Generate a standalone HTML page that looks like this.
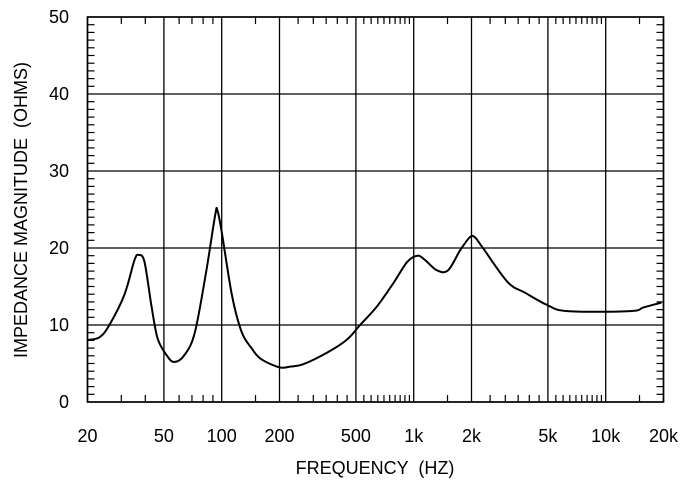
<!DOCTYPE html>
<html><head><meta charset="utf-8"><style>
body{margin:0;background:#fff}
svg text{font-family:"Liberation Sans",Arial,sans-serif;fill:#000;white-space:pre}
</style></head><body>
<svg id="chart" width="690" height="490" viewBox="0 0 690 490" xmlns="http://www.w3.org/2000/svg">
<g id="grid"></g>
<g id="ticks"></g>
<g id="labels"></g>
<path id="curve" fill="none" stroke="#000" stroke-width="2" stroke-linejoin="round"/>
<rect x="87.5" y="17" width="576" height="385" fill="none" stroke="#000" stroke-width="1.6"/>
<text x="375" y="474" font-size="18" text-anchor="middle" xml:space="preserve">FREQUENCY  (HZ)</text>
<text x="0" y="0" font-size="18" text-anchor="middle" xml:space="preserve" transform="translate(27,210) rotate(-90)">IMPEDANCE MAGNITUDE  (OHMS)</text>
</svg>
<script>
const freqs=[20,23.1,26,31.1,35.1,37,39.6,43,46.3,51.6,56.5,64,72.6,83.6,92.5,95,100,113,127,143,160,200,227,265,353,449,526,643,782,925,1048,1150,1320,1510,1745,1960,2080,2280,3080,3800,4960,6300,13400,15800,19500];
const ohms=[8.05,8.4,10,13.9,18.4,19.1,18.2,12.6,8.3,6.1,5.2,6.1,9.1,17.4,24.3,24.9,22.1,13.9,9.1,7.0,5.6,4.5,4.6,4.9,6.4,8.1,10.0,12.4,15.4,18.2,19.0,18.4,17.1,17.1,19.7,21.4,21.4,20.1,15.6,14.2,12.6,11.8,11.8,12.3,12.9];
const xMajor=[20,50,100,200,500,1000,2000,5000,10000,20000];
const xLabels=["20","50","100","200","500","1k","2k","5k","10k","20k"];
const xMinor=[30,40,60,70,80,90,150,250,300,350,400,450,550,600,650,700,750,800,850,900,950,1500,2500,3000,3500,4000,4500,5500,6000,6500,7000,7500,8000,8500,9000,9500,15000];
const yMajor=[0,10,20,30,40,50];
const L=87.5,R=663.5,T=17,B=402;
const sx=f=>L+(R-L)*Math.log10(f/20)/3;
const sy=v=>B-(B-T)*v/50;
const NS="http://www.w3.org/2000/svg";
function mk(tag,attrs,parent){const e=document.createElementNS(NS,tag);for(const k in attrs)e.setAttribute(k,attrs[k]);parent.appendChild(e);return e;}
const grid=document.getElementById('grid'),ticks=document.getElementById('ticks'),labels=document.getElementById('labels');
xMajor.forEach((f,i)=>{
  const l=mk('line',{x1:sx(f),x2:sx(f),y1:T,y2:B,stroke:'#000','stroke-width':1.3},grid);
  
  
  const t=mk('text',{x:sx(f),y:442,'font-size':18,'text-anchor':'middle'},labels);
  t.textContent=xLabels[i];
  
  
});
yMajor.forEach(v=>{
  const l=mk('line',{x1:L,x2:R,y1:sy(v),y2:sy(v),stroke:'#000','stroke-width':1.3},grid);
  
  
  const t=mk('text',{x:69,y:sy(v)+6,'font-size':18,'text-anchor':'end'},labels);
  t.textContent=String(v);
  
  
});
xMinor.forEach(f=>{
  const a=mk('line',{x1:sx(f),x2:sx(f),y1:B,y2:B-7,stroke:'#000','stroke-width':1.2},ticks);
  
  
  const b=mk('line',{x1:sx(f),x2:sx(f),y1:T,y2:T+7,stroke:'#000','stroke-width':1.2},ticks);
  
  
});
for(let v=1;v<50;v++){ if(v%10===0)continue;
  const a=mk('line',{x1:L,x2:L+7,y1:sy(v),y2:sy(v),stroke:'#000','stroke-width':1.2},ticks);
  
  
  const b=mk('line',{x1:R,x2:R-7,y1:sy(v),y2:sy(v),stroke:'#000','stroke-width':1.2},ticks);
  
  
}
const pts=freqs.map((f,i)=>[sx(f),sy(ohms[i])]);
let d='M'+pts[0][0].toFixed(1)+','+pts[0][1].toFixed(1);
for(let i=0;i<pts.length-1;i++){
  const p0=pts[Math.max(0,i-1)],p1=pts[i],p2=pts[i+1],p3=pts[Math.min(pts.length-1,i+2)];
  const c1x=p1[0]+(p2[0]-p0[0])/6,c1y=p1[1]+(p2[1]-p0[1])/6;
  const c2x=p2[0]-(p3[0]-p1[0])/6,c2y=p2[1]-(p3[1]-p1[1])/6;
  d+='C'+c1x.toFixed(1)+','+c1y.toFixed(1)+' '+c2x.toFixed(1)+','+c2y.toFixed(1)+' '+p2[0].toFixed(1)+','+p2[1].toFixed(1);
}
document.getElementById('curve').setAttribute('d',d);
</script>
</body></html>
